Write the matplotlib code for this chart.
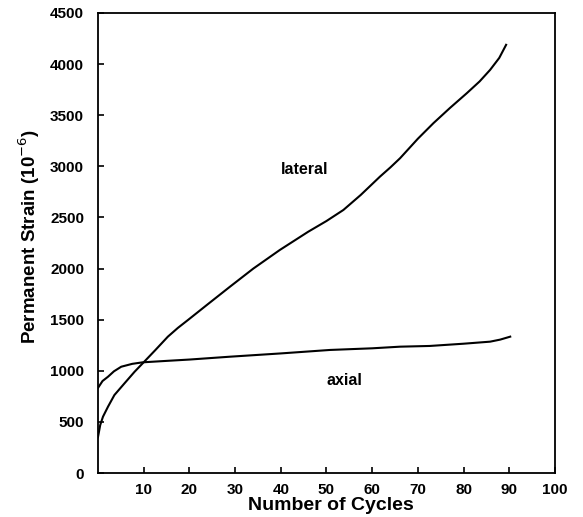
import matplotlib
matplotlib.use("Agg")
import matplotlib.pyplot as plt

# Data
lateral_x = [0, 0.5, 1.1, 2.2, 3.6, 5.8, 8, 10, 12.5, 15.3, 17.5, 19.7, 24, 28.9, 34, 39.8,
             46, 50, 53.7, 57.5, 61.7, 64, 66.1, 70, 73.4, 77, 80.7, 83.5, 85.8, 87.8, 89.3]
lateral_y = [350, 470, 551, 649, 763, 877, 990, 1083, 1200, 1334, 1420, 1497, 1650, 1823,
             2000, 2182, 2360, 2465, 2573, 2720, 2899, 2990, 3079, 3270, 3422, 3570, 3715,
             3830, 3943, 4060, 4188]

axial_x = [0, 1, 2.2, 3.5, 5.1, 7.5, 9.8, 15, 20, 28.9, 40, 50.8, 60, 66.1, 72.6, 80,
           85.8, 88, 90.2]
axial_y = [832, 900, 942, 995, 1040, 1068, 1083, 1097, 1110, 1138, 1170, 1204, 1220,
           1236, 1243, 1265, 1285, 1305, 1334]

x_ticks = [10, 20, 30, 40, 50, 60, 70, 80, 90, 100]
y_ticks = [0, 500, 1000, 1500, 2000, 2500, 3000, 3500, 4000, 4500]

plt.rcParams['font.family'] = ['Liberation Sans', 'DejaVu Sans']

fig = plt.figure(figsize=(5.83, 5.17), dpi=100)
ax = fig.add_axes([0.168, 0.085, 0.784, 0.89])

ax.plot(lateral_x, lateral_y, color='black', lw=1.5)
ax.plot(axial_x, axial_y, color='black', lw=1.5)

ax.set_xlim(0, 100)
ax.set_ylim(0, 4500)
ax.set_xticks(x_ticks)
ax.set_yticks(y_ticks)
ax.tick_params(direction='in', length=4, width=1.2, labelsize=11)
ax.tick_params(axis='y', pad=10)
ax.tick_params(axis='x', pad=7)
for lab in ax.get_xticklabels() + ax.get_yticklabels():
    lab.set_fontweight('bold')
for s in ax.spines.values():
    s.set_linewidth(1.3)

ax.text(45.3, 2965, 'lateral', fontsize=11.5, fontweight='bold', ha='center', va='center')
ax.text(54, 910, 'axial', fontsize=11.5, fontweight='bold', ha='center', va='center')

ax.set_xlabel('Number of Cycles', fontsize=14, fontweight='bold')
ax.xaxis.set_label_coords(0.51, -0.053)
ax.set_ylabel('Permanent Strain (10$^{-6}$)', fontsize=13.5, fontweight='bold')
ax.yaxis.set_label_coords(-0.123, 0.515)

fig.savefig('out.png', dpi=100)
